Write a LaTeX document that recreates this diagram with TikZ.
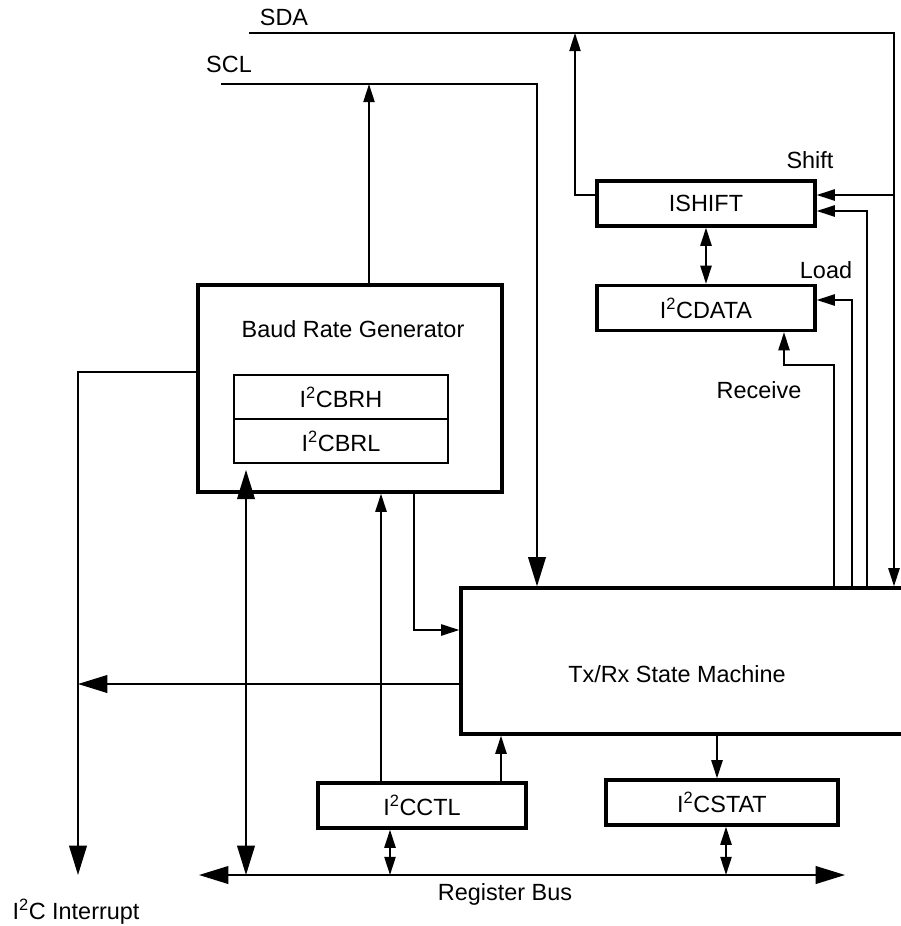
\documentclass[tikz,border=0pt]{standalone}
\usepackage{fontspec}
\setmainfont{Liberation Sans}
\usetikzlibrary{arrows.meta}

\begin{document}
\begin{tikzpicture}[x=0.03cm, y=-0.03cm,
    every node/.style={font=\fontsize{20}{24}\selectfont, inner sep=0pt},
    box/.style={draw, line width=2.8pt, minimum height=1.35cm},
    reg/.style={draw, line width=1.7pt, minimum width=6.42cm, minimum height=1.32cm},
    txt/.style={anchor=base},
    wire/.style={line width=1.7pt},
    arrow/.style={wire, -{Triangle[length=15.5pt, width=9.5pt]}},
    both/.style={wire, {Triangle[length=15.5pt, width=9.5pt]}-{Triangle[length=15.5pt, width=9.5pt]}},
    bigarrow/.style={wire, -{Triangle[length=25pt, width=15pt]}},
    bigboth/.style={wire, {Triangle[length=25pt, width=15pt]}-{Triangle[length=25pt, width=15pt]}}]
    \useasboundingbox (0, 0) rectangle (901, 926);
    \clip (0, 0) rectangle (901, 926);

    \node [box, minimum width=9.12cm, minimum height=6.21cm] (brg) at (350, 388.5) {};
    \node [txt] (brgtext) at (353, 337) {Baud Rate Generator};
    \node [reg] (brh) at (341, 397) {I\textsuperscript{2}CBRH};
    \node [reg] (brl) at (341, 441) {I\textsuperscript{2}CBRL};
    \node [box, minimum width=6.54cm] (ishift) at (706, 203.5) {ISHIFT};
    \node [box, minimum width=6.54cm] (data) at (706, 308) {I\textsuperscript{2}CDATA};
    \node [box, minimum width=14.7cm, minimum height=4.38cm] (txrx) at (706, 661) {};
    \node [txt] (txrxtext) at (677, 682) {Tx/Rx State Machine};
    \node [box, minimum width=6.24cm] (ctl) at (422, 805.5) {I\textsuperscript{2}CCTL};
    \node [box, minimum width=6.96cm] (stat) at (722, 802.5) {I\textsuperscript{2}CSTAT};

    \node [txt] (sdatext) at (284, 26) {SDA};
    \node [txt] (scltext) at (229, 72) {SCL};
    \node [txt] (shifttext) at (810, 168) {Shift};
    \node [txt] (loadtext) at (826, 278) {Load};
    \node [txt] (rxtext) at (759, 398) {Receive};
    \node [txt] (bustext) at (505, 900) {Register Bus};
    \node [txt] (irqtext) at (76, 919) {I\textsuperscript{2}C Interrupt};

    \coordinate (sdaL) at (249, 33);
    \coordinate (sdaR) at (894, 33);
    \coordinate (sdaout) at (575, 33);
    \coordinate (sclL) at (221, 84);
    \coordinate (sclR) at (537, 84);
    \coordinate (sclin) at (369, 84);
    \coordinate (shiftin) at (894, 195);
    \coordinate (shiftctl) at (867, 211);
    \coordinate (loadctl) at (852, 300);
    \coordinate (rxctl) at (834, 365);
    \coordinate (rxin) at (784, 365);
    \coordinate (brgout) at (414, 630);
    \coordinate (irqtop) at (78, 372);
    \coordinate (irqend) at (78, 875);
    \coordinate (irqjoin) at (78, 684);
    \coordinate (busL) at (199, 875);
    \coordinate (busR) at (845, 875);
    \coordinate (brgbus) at (246, 875);
    \coordinate (ctltap) at (381, 783);
    \coordinate (ctltx) at (501, 783);
    \coordinate (ctlbus) at (390, 875);
    \coordinate (stattap) at (717, 780);
    \coordinate (statbus) at (726, 875);

    \draw [arrow] (sdaL) -- (sdaR) -- (txrx.north -| sdaR);
    \draw [bigarrow] (sclL) -- (sclR) -- (txrx.north -| sclR);
    \draw [arrow] (brg.north -| sclin) -- (sclin);
    \draw [arrow] (ishift.west |- shiftin) -- (sdaout |- shiftin) -- (sdaout);
    \draw [arrow] (shiftin) -- (ishift.east |- shiftin);
    \draw [arrow] (txrx.north -| shiftctl) -- (shiftctl) -- (ishift.east |- shiftctl);
    \draw [arrow] (txrx.north -| loadctl) -- (loadctl) -- (data.east |- loadctl);
    \draw [arrow] (txrx.north -| rxctl) -- (rxctl) -- (rxin) -- (data.south -| rxin);
    \draw [both] (ishift.south) -- (data.north);
    \draw [arrow] (brg.south -| brgout) -- (brgout) -- (txrx.west |- brgout);
    \draw [bigarrow] (brg.west |- irqtop) -- (irqtop) -- (irqend);
    \draw [bigarrow] (txrx.west |- irqjoin) -- (irqjoin);
    \draw [bigboth] (busL) -- (busR);
    \draw [bigboth, shorten >=5pt] (brgbus) -- (brl.south -| brgbus);
    \draw [arrow] (ctl.north -| ctltap) -- (brg.south -| ctltap);
    \draw [arrow] (ctl.north -| ctltx) -- (txrx.south -| ctltx);
    \draw [both] (ctlbus) -- (ctl.south -| ctlbus);
    \draw [arrow] (txrx.south -| stattap) -- (stat.north -| stattap);
    \draw [both] (statbus) -- (stat.south -| statbus);
  \end{tikzpicture}
\end{document}
